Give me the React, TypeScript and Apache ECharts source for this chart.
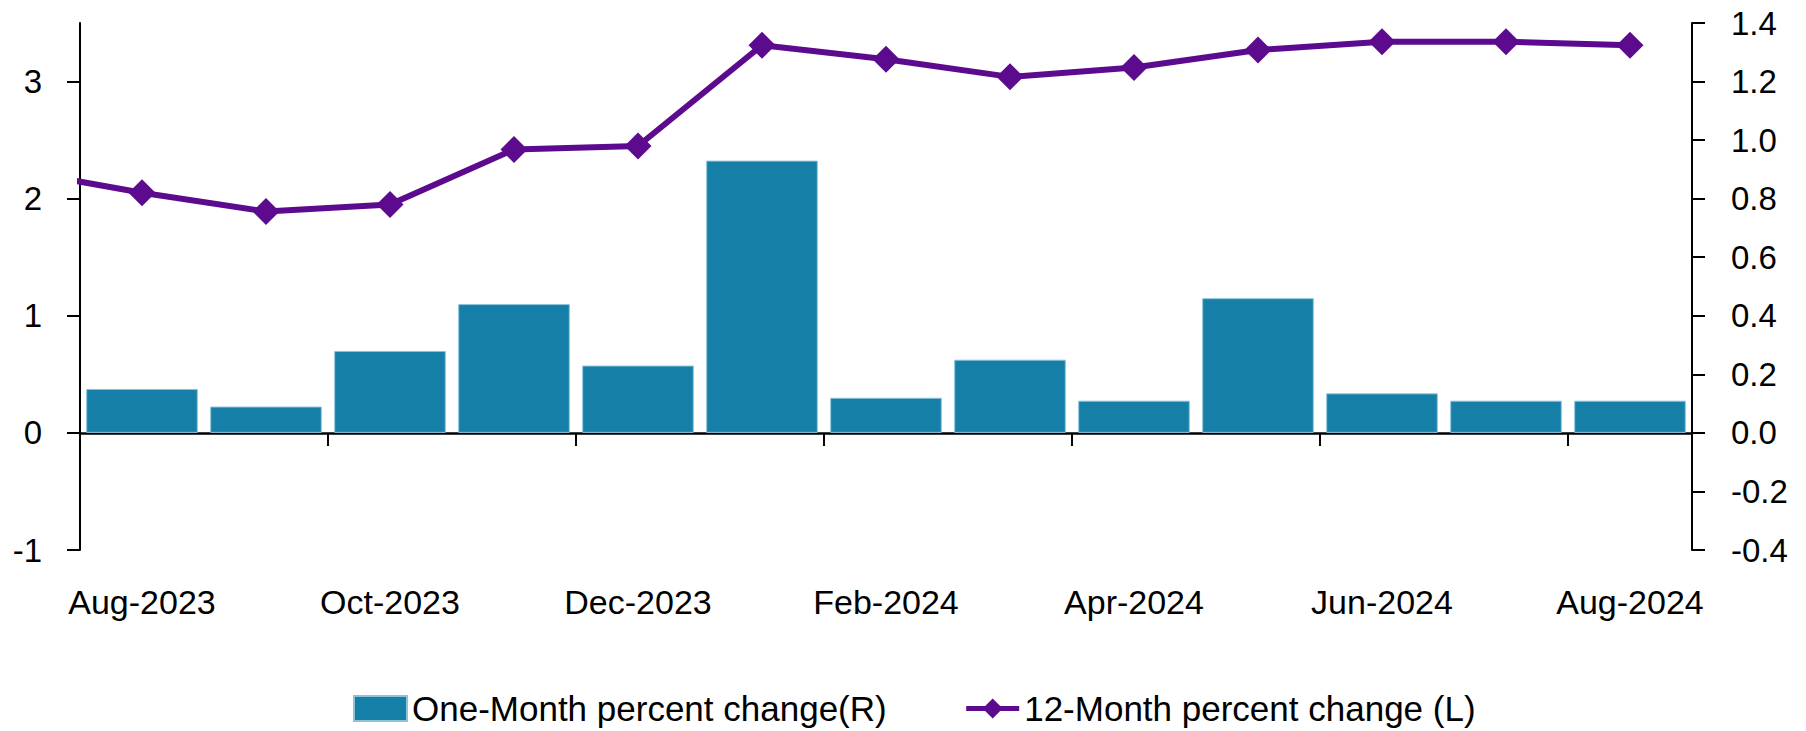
import React, { useEffect, useRef } from 'react';
import * as echarts from 'echarts';

const months = ['Aug-2023', 'Sep-2023', 'Oct-2023', 'Nov-2023', 'Dec-2023', 'Jan-2024', 'Feb-2024', 'Mar-2024', 'Apr-2024', 'May-2024', 'Jun-2024', 'Jul-2024', 'Aug-2024'];
const oneMonthChange = [0.15, 0.09, 0.28, 0.44, 0.23, 0.93, 0.12, 0.25, 0.11, 0.46, 0.135, 0.11, 0.11];
const twelveMonthChange = [2.05, 1.89, 1.95, 2.42, 2.45, 3.31, 3.19, 3.04, 3.12, 3.27, 3.34, 3.34, 3.31];
const priorTwelveMonthChange = 2.24; // Jul-2023, only its segment enters the plot
const leftTickValues = [-1, 0, 1, 2, 3];
const rightTickValues = [-0.4, -0.2, 0, 0.2, 0.4, 0.6, 0.8, 1.0, 1.2, 1.4];
const barName = 'One-Month percent change(R)';
const lineName = '12-Month percent change (L)';

const FONT = "'Liberation Sans', Arial, sans-serif";
const BAR_COLOR = '#157fa8';
const LINE_COLOR = '#5c0a8e';

export default function App() {
  const ref = useRef<HTMLDivElement>(null);
  useEffect(() => {
    document.body.style.margin = '0';
    if (!ref.current) return;
    const chart = echarts.init(ref.current, null, { renderer: 'svg' });
    const lineData = [[-1, priorTwelveMonthChange], ...twelveMonthChange.map((v, i) => [i, v])];
    chart.setOption({
      animation: false,
      backgroundColor: '#ffffff',
      textStyle: { fontFamily: FONT },
      grid: { left: 80, right: 114, top: 23, bottom: 181, containLabel: false },
      legend: {
        left: 348,
        top: 686,
        itemWidth: 53,
        itemHeight: 25,
        itemGap: 77,
        textStyle: { fontFamily: FONT, fontSize: 35, color: '#000' },
        data: [
          { name: barName, icon: 'rect' },
          { name: lineName, lineStyle: { width: 5, color: LINE_COLOR } },
        ],
      },
      xAxis: [
        {
          type: 'category',
          data: months,
          position: 'bottom',
          boundaryGap: true,
          axisLine: { show: false, onZero: false },
          axisTick: { show: false },
          axisLabel: { interval: 1, margin: 35, fontSize: 34, color: '#000', fontFamily: FONT },
          splitLine: { show: false },
        },
        {
          type: 'category',
          data: months,
          position: 'bottom',
          boundaryGap: true,
          axisLine: { show: true, onZero: true, lineStyle: { color: '#000', width: 2.5 } },
          axisTick: { show: true, interval: 1, length: 13, lineStyle: { color: '#000', width: 2 } },
          axisLabel: { show: false },
          splitLine: { show: false },
        },
        {
          type: 'value',
          min: -0.5,
          max: 12.5,
          show: false,
          axisLine: { onZero: false },
          splitLine: { show: false },
        },
      ],
      yAxis: [
        {
          type: 'value',
          position: 'left',
          min: -1,
          max: 3.5,
          interval: 1,
          axisLine: { show: true, onZero: false, lineStyle: { color: '#000', width: 2 } },
          axisTick: { show: true, length: 13, customValues: leftTickValues, lineStyle: { color: '#000', width: 2 } },
          axisLabel: { margin: 38, fontSize: 33, color: '#000', fontFamily: FONT, customValues: leftTickValues },
          splitLine: { show: false },
        },
        {
          type: 'value',
          position: 'right',
          min: -0.4,
          max: 1.4,
          interval: 0.2,
          axisLine: { show: true, onZero: false, lineStyle: { color: '#000', width: 2 } },
          axisTick: { show: true, length: 13, customValues: rightTickValues, lineStyle: { color: '#000', width: 2 } },
          axisLabel: {
            margin: 39,
            fontSize: 33,
            color: '#000',
            fontFamily: FONT,
            customValues: rightTickValues,
            formatter: (v: number) => (Math.abs(v) < 1e-9 ? 0 : v).toFixed(1),
          },
          splitLine: { show: false },
        },
      ],
      series: [
        {
          name: barName,
          type: 'bar',
          xAxisIndex: 0,
          yAxisIndex: 1,
          data: oneMonthChange,
          barCategoryGap: '10%',
          itemStyle: { color: BAR_COLOR, borderColor: '#8cc3da', borderWidth: 1 },
          z: 2,
        },
        {
          name: lineName,
          type: 'line',
          xAxisIndex: 2,
          yAxisIndex: 0,
          data: lineData,
          clip: true,
          symbol: 'diamond',
          symbolSize: 27,
          showAllSymbol: true,
          lineStyle: { color: LINE_COLOR, width: 6 },
          itemStyle: { color: LINE_COLOR },
          z: 3,
        },
      ],
    });
    return () => chart.dispose();
  }, []);
  return <div ref={ref} style={{ width: 1806, height: 731 }} />;
}
